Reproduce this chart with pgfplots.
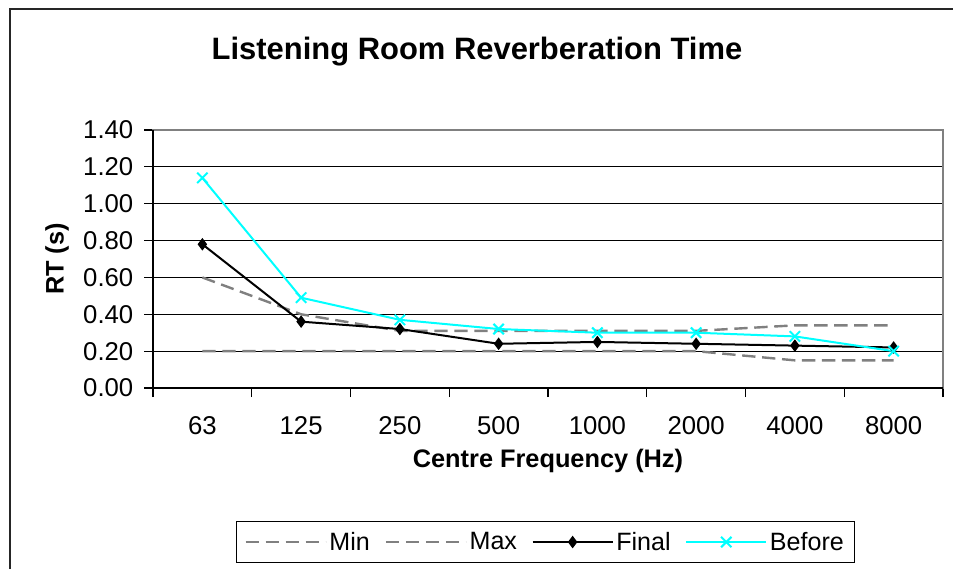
\documentclass[border=0pt]{standalone}
\usepackage{fontspec}
\setmainfont{Liberation Sans}
\usepackage{graphicx}
\usepackage{pgfplots}
\pgfplotsset{compat=1.18}
\definecolor{cyanline}{RGB}{0,255,255}
\definecolor{grayline}{RGB}{128,128,128}
\begin{document}
\begin{tikzpicture}
\useasboundingbox (0,0) rectangle (714.75pt,426.75pt);
\draw[line width=1pt,black!85] (7.5pt,0) -- (7.5pt,420pt) -- (714.75pt,420pt);
\node[anchor=base,font=\fontsize{23.2}{28}\selectfont\bfseries] at (357.75pt,381.75pt) {Listening Room Reverberation Time};
\begin{axis}[
  at={(114.75pt,135.75pt)}, anchor=south west,
  scale only axis, width=592.5pt, height=193.5pt,
  clip=false,
  xmin=0.5, xmax=8.5, ymin=0, ymax=1.4,
  xtick={1,2,3,4,5,6,7,8},
  xticklabels={63,125,250,500,1000,2000,4000,8000},
  major x tick style={draw=none},
  minor xtick={0.5,1.5,2.5,3.5,4.5,5.5,6.5,7.5,8.5},
  ytick={0,0.2,0.4,0.6,0.8,1.0,1.2,1.4},
  tick align=outside, xtick pos=bottom, ytick pos=left,
  major tick length=6.75pt, minor tick length=6.75pt,
  ymajorgrids, major grid style={black, line width=0.75pt},
  axis line style={grayline, line width=1.1pt},
  tick style={black, line width=0.8pt},
  /pgf/number format/assume math mode=true,
  yticklabel style={/pgf/number format/.cd, fixed, fixed zerofill, precision=2, /tikz/.cd, xshift=-4.5pt},
  xticklabel style={yshift=-11pt},
  ticklabel style={font=\fontsize{19.3}{23}\selectfont},
  xlabel={Centre Frequency (Hz)},
  ylabel={RT (s)},
  xlabel style={font=\fontsize{19}{23}\selectfont\bfseries, at={(axis description cs:0.5,-0.283)}, anchor=center},
  ylabel style={font=\fontsize{19}{23}\selectfont\bfseries, at={(axis description cs:-0.1215,0.5)}, anchor=center},
  legend columns=4,
  legend style={at={(0.4968,-0.597)}, anchor=center, draw=black, line width=0.75pt,
    font=\fontsize{18.8}{22}\selectfont,
    /tikz/every even column/.append style={column sep=9pt},
    inner xsep=6pt, inner ysep=6pt},
  legend image code/.code={\draw[mark repeat=2,mark phase=2] plot coordinates {(0pt,0pt) (30pt,0pt) (60pt,0pt)};},
]
\addplot[grayline, line width=1.8pt, dash pattern=on 10pt off 5pt] coordinates {
 (1,0.20) (2,0.20) (3,0.20) (4,0.20) (5,0.20) (6,0.20) (7,0.15) (8,0.15)};
\addlegendentry{Min}
\addplot[grayline, line width=1.8pt, dash pattern=on 10pt off 5pt] coordinates {
 (1,0.60) (2,0.40) (3,0.31) (4,0.31) (5,0.31) (6,0.31) (7,0.34) (8,0.34)};
\addlegendentry{Max}
\addplot[black, line width=1.5pt, mark=diamond*, mark size=3.5pt, mark options={solid}] coordinates {
 (1,0.78) (2,0.36) (3,0.32) (4,0.24) (5,0.25) (6,0.24) (7,0.23) (8,0.22)};
\addlegendentry{Final}
\addplot[cyanline, line width=1.5pt, mark=x, mark size=5.5pt, mark options={solid, line width=1.5pt}] coordinates {
 (1,1.14) (2,0.49) (3,0.37) (4,0.32) (5,0.30) (6,0.30) (7,0.28) (8,0.20)};
\addlegendentry{Before}
\draw[black, line width=1.1pt] (rel axis cs:0,1) -- (rel axis cs:0,0) -- (rel axis cs:1,0);
\end{axis}
\end{tikzpicture}
\end{document}
